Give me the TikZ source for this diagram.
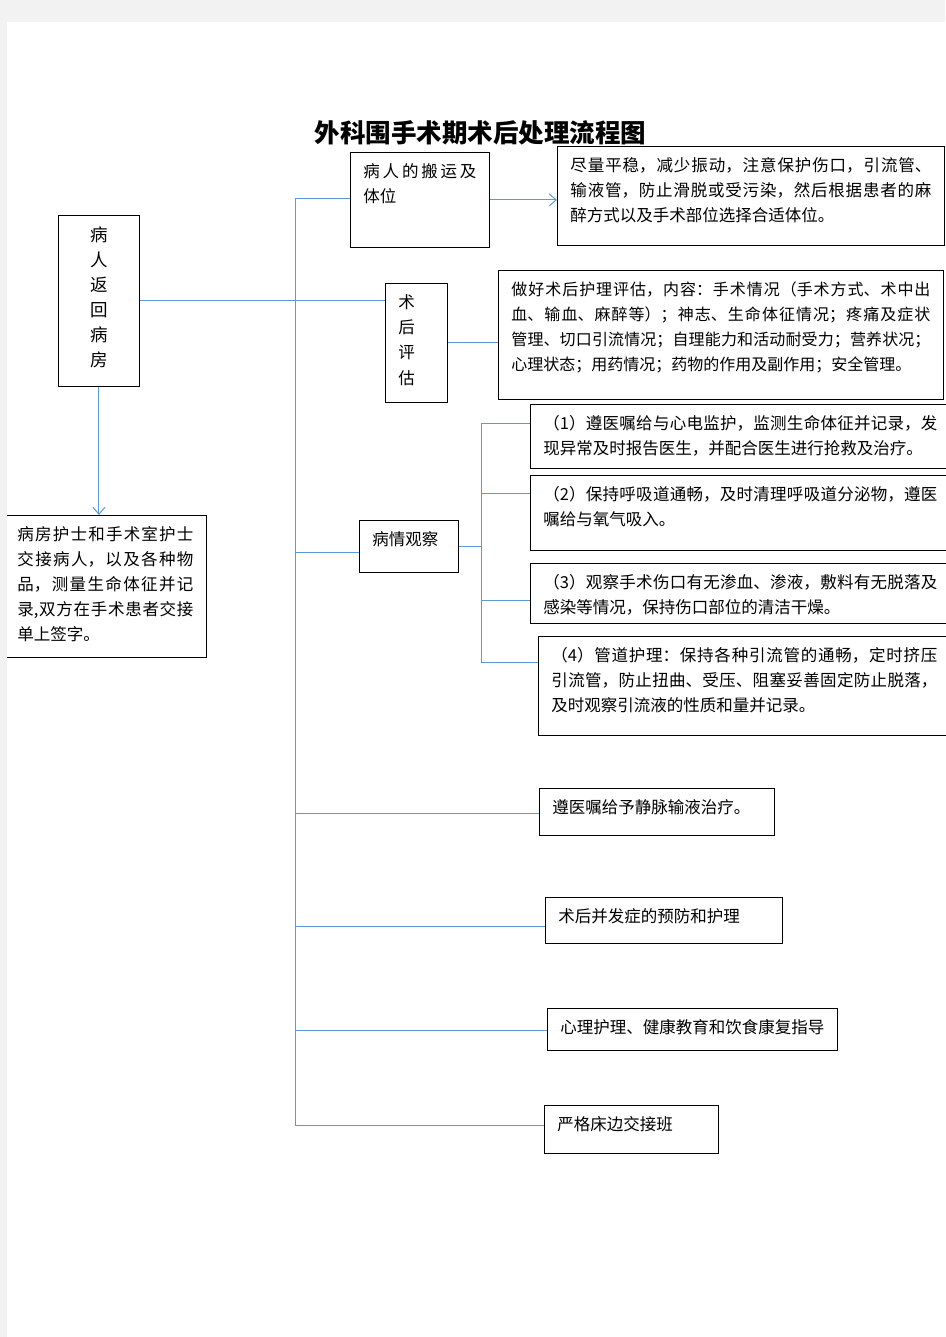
\documentclass[tikz,border=0pt]{standalone}
\usepackage{fontspec}
\setmainfont{Noto Sans CJK SC}
\usetikzlibrary{arrows.meta}
\XeTeXlinebreaklocale "zh"
\XeTeXlinebreakskip=0pt plus 4pt
\definecolor{linkblue}{HTML}{5B9BD5}
\definecolor{pagegray}{HTML}{F2F2F2}
\tikzset{
  boxst/.style={draw=black, line width=0.9pt, rectangle, anchor=north west, inner xsep=13pt, inner ysep=11pt},
  link/.style={draw=linkblue, line width=1pt},
  arr/.style={link, -{Straight Barb[length=7pt,width=12pt]}},
}
\newcommand{\txtbox}[7]{%
  \node[boxst, name=#1] at (#2,#3) {\parbox[t][\dimexpr #5pt-22pt\relax][t]{\dimexpr #4pt-26pt\relax}{\fontsize{#6}{25}\selectfont #7}};}
\begin{document}
\begin{tikzpicture}[x=1pt,y=-1pt]
\useasboundingbox (0,0) rectangle (945,1337);
\fill[white] (0,0) rectangle (945,1337);

\node[font=\bfseries\fontsize{25.5}{30}\selectfont] (title) at (480.5,133) {外科围手术期术后处理流程图};

\txtbox{bany}{350}{152}{139}{95}{16.5}{病人的搬运及\linebreak 体位}
\txtbox{jinl}{557}{146}{387}{99}{16.5}{尽量平稳，减少振动，注意保护伤口，引流管、\linebreak 输液管，防止滑脱或受污染，然后根据患者的麻\linebreak 醉方式以及手术部位选择合适体位。}
\node[boxst, name=fanhui] at (58,215) {\parbox[t][149pt][t]{55pt}{\centering\fontsize{17.5}{25}\selectfont 病\\人\\返\\回\\病\\房}};
\node[boxst, name=pinggu] at (385,283) {\parbox[t][97pt][t]{36pt}{\fontsize{16.5}{25.3}\selectfont 术\\后\\评\\估}};
\txtbox{zuohao}{498}{270}{445}{129}{16}{做好术后护理评估，内容：手术情况（手术方式、术中出\linebreak 血、输血、麻醉等）；神志、生命体征情况；疼痛及症状\linebreak 管理、切口引流情况；自理能力和活动耐受力；营养状况；\linebreak 心理状态；用药情况；药物的作用及副作用；安全管理。}
\txtbox{o1}{530}{404}{420}{64}{16.5}{（1）遵医嘱给与心电监护，监测生命体征并记录，发\linebreak 现异常及时报告医生，并配合医生进行抢救及治疗。}
\txtbox{o2}{530}{475}{420}{75}{16.5}{（2）保持呼吸道通畅，及时清理呼吸道分泌物，遵医\linebreak 嘱给与氧气吸入。}
\txtbox{o3}{530}{563}{420}{60}{16.5}{（3）观察手术伤口有无渗血、渗液，敷料有无脱落及\linebreak 感染等情况，保持伤口部位的清洁干燥。}
\txtbox{o4}{538}{636}{412}{99}{16.5}{（4）管道护理：保持各种引流管的通畅，定时挤压\linebreak 引流管，防止扭曲、受压、阻塞妥善固定防止脱落，\linebreak 及时观察引流液的性质和量并记录。}
\txtbox{bingqing}{359}{520}{99}{52}{16.5}{\mbox{病情观察}}
\txtbox{binfang}{4}{515}{202}{142}{16.5}{病房护士和手术室护士\linebreak 交接病人，以及各种物\linebreak 品，测量生命体征并记\linebreak 录,双方在手术患者交接\linebreak 单上签字。}
\txtbox{jm}{539}{788}{235}{47}{16.5}{\mbox{遵医嘱给予静脉输液治疗。}}
\txtbox{bf}{545}{897}{237}{46}{16.5}{\mbox{术后并发症的预防和护理}}
\txtbox{xl}{547}{1008}{290}{42}{16.5}{\mbox{心理护理、健康教育和饮食康复指导}}
\txtbox{yg}{544}{1105}{174}{48}{16.5}{\mbox{严格床边交接班}}

% connectors
\coordinate (vtop) at (295,199);
\coordinate (vbot) at (295,1125);
\draw[link] (vtop) -- (vbot);
\draw[link] (vtop) -- (vtop -| bany.west);
\draw[arr] (bany.east) -- (bany.east -| jinl.west);
\draw[link] (fanhui.east) -- (fanhui.east -| pinggu.west);
\draw[link] (pinggu.east) -- (pinggu.east -| zuohao.west);
\draw[arr] (fanhui.south) -- (fanhui.south |- binfang.north);
\coordinate (bq) at (295,552);
\draw[link] (bq) -- (bq -| bingqing.west);
\coordinate (sv1) at (481,423);
\coordinate (sv2) at (481,662);
\draw[link] (sv1) -- (sv2);
\draw[link] (bingqing.east) -- (bingqing.east -| sv1);
\draw[link] (sv1) -- (sv1 -| o1.west);
\coordinate (s2) at (481,493);
\draw[link] (s2) -- (s2 -| o2.west);
\coordinate (s3) at (481,600);
\draw[link] (s3) -- (s3 -| o3.west);
\draw[link] (sv2) -- (sv2 -| o4.west);
\coordinate (m1) at (295,813);
\draw[link] (m1) -- (m1 -| jm.west);
\coordinate (m2) at (295,926);
\draw[link] (m2) -- (m2 -| bf.west);
\coordinate (m3) at (295,1030);
\draw[link] (m3) -- (m3 -| xl.west);
\draw[link] (vbot) -- (vbot -| yg.west);

% page margin
\fill[pagegray] (0,0) rectangle (945,22);
\fill[pagegray] (0,0) rectangle (7,1337);
\end{tikzpicture}
\end{document}
